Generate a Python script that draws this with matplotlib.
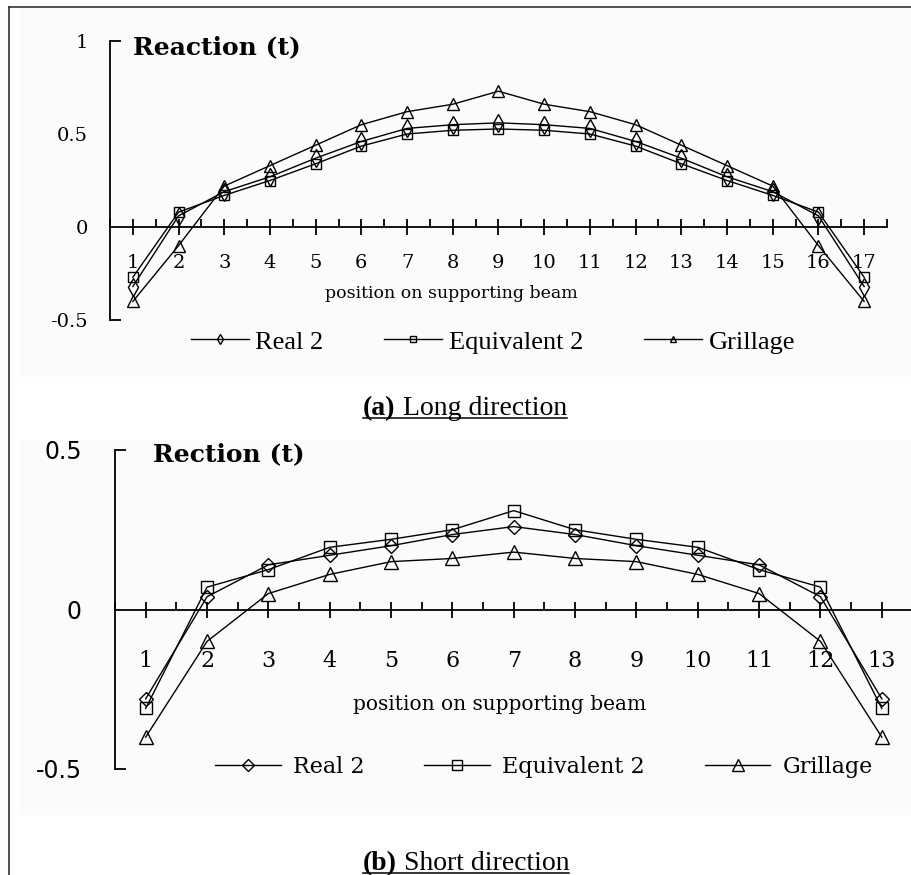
import matplotlib
matplotlib.use("Agg")
import matplotlib.pyplot as plt
from matplotlib.lines import Line2D
from matplotlib.patches import Rectangle
from matplotlib.ticker import FixedLocator

# ---------------- data ----------------
pos_long = list(range(1, 18))
real_long = [-0.32, 0.06, 0.19, 0.27, 0.37, 0.46, 0.53, 0.55, 0.56, 0.55, 0.53, 0.46, 0.37, 0.27, 0.19, 0.06, -0.32]
equiv_long = [-0.27, 0.08, 0.17, 0.25, 0.34, 0.435, 0.50, 0.52, 0.527, 0.52, 0.50, 0.435, 0.34, 0.25, 0.17, 0.08, -0.27]
grill_long = [-0.40, -0.10, 0.22, 0.33, 0.44, 0.55, 0.62, 0.66, 0.73, 0.66, 0.62, 0.55, 0.44, 0.33, 0.22, -0.10, -0.40]

pos_short = list(range(1, 14))
real_short = [-0.28, 0.04, 0.14, 0.17, 0.20, 0.235, 0.26, 0.235, 0.20, 0.17, 0.14, 0.04, -0.28]
equiv_short = [-0.31, 0.07, 0.125, 0.195, 0.22, 0.25, 0.31, 0.25, 0.22, 0.195, 0.125, 0.07, -0.31]
grill_short = [-0.40, -0.10, 0.05, 0.11, 0.15, 0.16, 0.18, 0.16, 0.15, 0.11, 0.05, -0.10, -0.40]

series_names = ["Real 2", "Equivalent 2", "Grillage"]
yticks_long = [-0.5, 0, 0.5, 1]
ytick_labels_long = ["-0.5", "0", "0.5", "1"]
yticks_short = [-0.5, 0, 0.5]
ytick_labels_short = ["-0.5", "0", "0.5"]

W, H = 912, 875
fig = plt.figure(figsize=(W / 100, H / 100), dpi=100)
fig.patch.set_facecolor("white")


def fx(px):
    return px / W


def fy(py):
    return 1 - py / H


# light background blocks and frame
fig.add_artist(Rectangle((fx(20), fy(377)), fx(912) - fx(20), fy(8) - fy(377),
                         transform=fig.transFigure, facecolor="#fbfbfb", edgecolor="none", zorder=0))
fig.add_artist(Rectangle((fx(20), fy(815)), fx(912) - fx(20), fy(440) - fy(815),
                         transform=fig.transFigure, facecolor="#fbfbfb", edgecolor="none", zorder=0))
fig.add_artist(Line2D([fx(9), fx(9)], [fy(7), 0], transform=fig.transFigure, color="#333333", lw=1.2))
fig.add_artist(Line2D([fx(9), 1], [fy(7), fy(7)], transform=fig.transFigure, color="#333333", lw=1.2))


def style_axes(ax, n, yticks, ylabels, ylim, ylab_font, ylab_size, ylab_pad, xlab_size, xlab_pad):
    ax.set_facecolor("none")
    ax.set_xlim(0.5, n + 0.5)
    ax.set_ylim(*ylim)
    for s in ["top", "right"]:
        ax.spines[s].set_visible(False)
    ax.spines["bottom"].set_position(("data", 0))
    ax.spines["bottom"].set_linewidth(1.3)
    ax.spines["left"].set_linewidth(1.3)
    ax.set_xticks(range(1, n + 1))
    ax.set_xticklabels([str(i) for i in range(1, n + 1)], family="DejaVu Serif", fontsize=xlab_size)
    ax.xaxis.set_minor_locator(FixedLocator([i + 0.5 for i in range(0, n + 1)]))
    ax.tick_params(axis="x", which="major", direction="inout", length=11, width=1.3, pad=xlab_pad)
    ax.tick_params(axis="x", which="minor", direction="in", length=6, width=1.3)
    ax.set_yticks(yticks)
    ax.set_yticklabels(ylabels, family=ylab_font, fontsize=ylab_size)
    ax.yaxis.remove_overlapping_locs = False
    ax.yaxis.set_minor_locator(FixedLocator([ylim[0], ylim[1]]))
    ax.tick_params(axis="y", which="major", length=0, pad=ylab_pad)
    ax.tick_params(axis="y", which="minor", direction="in", length=8, width=1.3)


# ---------------- top chart ----------------
ax1 = fig.add_axes([fx(110), fy(320), fx(887) - fx(110), fy(41) - fy(320)])
style_axes(ax1, 17, yticks_long, ytick_labels_long, (-0.5, 1.0), "DejaVu Serif", 14, 16, 14, 14)
kw = dict(color="black", lw=1.0, markerfacecolor="none", markeredgecolor="black", markeredgewidth=1.0)
ax1.plot(pos_long, real_long, marker="d", ms=9, label=series_names[0], **kw)
ax1.plot(pos_long, equiv_long, marker="s", ms=7, label=series_names[1], **kw)
ax1.plot(pos_long, grill_long, marker="^", ms=8, label=series_names[2], **kw)
fig.text(fx(451), fy(293), "position on supporting beam", ha="center", va="center",
         family="DejaVu Serif", fontsize=12.5)
fig.text(fx(133), fy(47), "Reaction (t)", ha="left", va="center",
         family="DejaVu Serif", fontweight="bold", fontsize=18)
ax1.legend(loc="center", bbox_to_anchor=(fx(493), fy(342)), bbox_transform=fig.transFigure,
           ncol=3, frameon=False, handlelength=2.2, handletextpad=0.25, columnspacing=2.3,
           markerscale=0.6, prop={"family": "Liberation Serif", "size": 19})

# ---------------- bottom chart ----------------
ax2 = fig.add_axes([fx(115), fy(769), fx(912.5) - fx(115), fy(450) - fy(769)])
style_axes(ax2, 13, yticks_short, ytick_labels_short, (-0.5, 0.5), "DejaVu Sans", 17, 24, 16, 24)
ax2.plot(pos_short, real_short, marker="D", ms=7, label=series_names[0], clip_on=False, **kw)
ax2.plot(pos_short, equiv_short, marker="s", ms=8.5, label=series_names[1], clip_on=False, **kw)
ax2.plot(pos_short, grill_short, marker="^", ms=10, label=series_names[2], clip_on=False, **kw)
fig.text(fx(500), fy(705), "position on supporting beam", ha="center", va="center",
         family="DejaVu Serif", fontsize=14.5)
fig.text(fx(153), fy(454), "Rection (t)", ha="left", va="center",
         family="DejaVu Serif", fontweight="bold", fontsize=18)
ax2.legend(loc="center", bbox_to_anchor=(fx(544), fy(767)), bbox_transform=fig.transFigure,
           ncol=3, frameon=False, handlelength=2.95, handletextpad=0.55, columnspacing=2.7,
           markerscale=0.9, prop={"family": "DejaVu Serif", "size": 16})

# ---------------- captions (bold label + underlined text) ----------------
renderer = fig.canvas.get_renderer()


def caption(cx_px, cy_px, bold_part, rest, size=20):
    t1 = fig.text(0, 0, bold_part, family="Liberation Serif", fontweight="bold", fontsize=size,
                  va="baseline", ha="left")
    t2 = fig.text(0, 0, rest, family="Liberation Serif", fontsize=size, va="baseline", ha="left")
    w1 = t1.get_window_extent(renderer).width
    w2 = t2.get_window_extent(renderer).width
    total = w1 + w2
    x0 = cx_px - total / 2
    base = cy_px + size * 100 / 72 * 0.3
    t1.set_position((fx(x0), fy(base)))
    t2.set_position((fx(x0 + w1), fy(base)))
    fig.add_artist(Line2D([fx(x0), fx(x0 + total)], [fy(base + 3), fy(base + 3)],
                          transform=fig.transFigure, color="black", lw=1.1))


caption(465, 407, "(a)", " Long direction")
caption(466, 862, "(b)", " Short direction")

fig.savefig("out.png", dpi=100, facecolor="white")
